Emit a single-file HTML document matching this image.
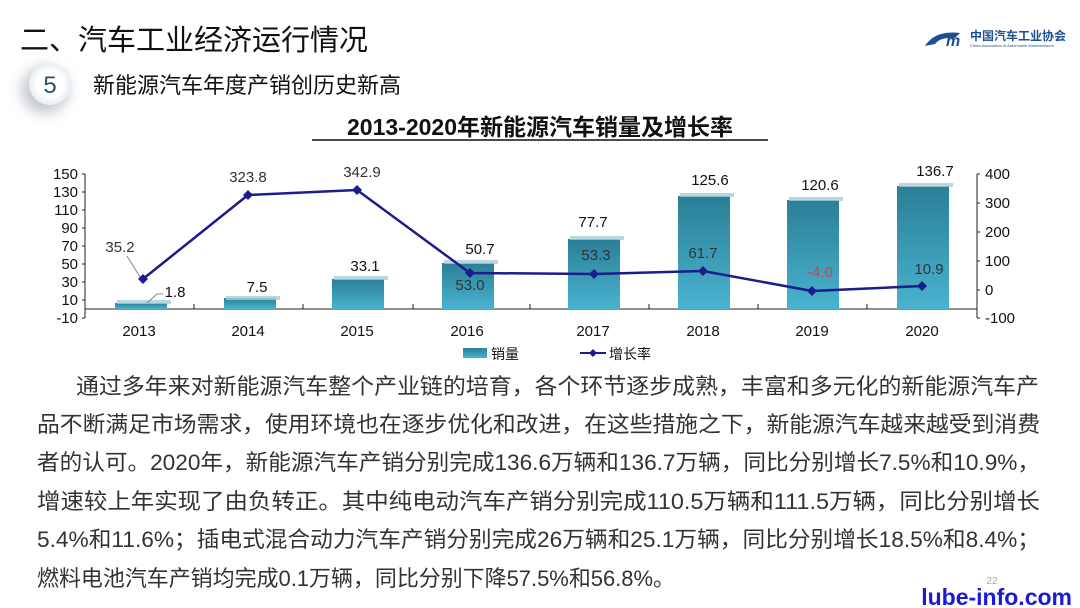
<!DOCTYPE html>
<html><head><meta charset="utf-8"><style>
html,body{margin:0;padding:0;background:#fff;}
svg{display:block;font-family:"Liberation Sans","Noto Sans CJK SC",sans-serif;}
</style></head><body>
<svg width="1080" height="608" viewBox="0 0 1080 608" xmlns="http://www.w3.org/2000/svg">
<defs>
<linearGradient id="bar" x1="0" y1="0" x2="0" y2="1">
<stop offset="0" stop-color="#2a7f96"/><stop offset="1" stop-color="#4ab3cf"/>
</linearGradient>
<radialGradient id="circ" cx="0.5" cy="0.5" r="0.5">
<stop offset="0.6" stop-color="#ffffff"/><stop offset="1" stop-color="#e8eef3"/>
</radialGradient>
<filter id="sh" x="-50%" y="-50%" width="200%" height="200%"><feGaussianBlur stdDeviation="6"/></filter>
</defs>
<rect width="1080" height="608" fill="#fff"/>
<!-- header -->
<text x="20" y="50" font-size="29" fill="#111">二、汽车工业经济运行情况</text>
<circle cx="45" cy="90" r="24" fill="#c8ccd2" filter="url(#sh)"/>
<circle cx="50" cy="84" r="21" fill="url(#circ)"/>
<text x="50" y="93" font-size="24" fill="#2c4f72" text-anchor="middle">5</text>
<text x="93" y="93" font-size="22" fill="#111">新能源汽车年度产销创历史新高</text>
<text x="540" y="135" font-size="23" font-weight="bold" fill="#111" text-anchor="middle">2013-2020年新能源汽车销量及增长率</text>
<line x1="312" y1="140" x2="768" y2="140" stroke="#111" stroke-width="1.5"/>
<!-- logo -->
<path d="M925 46 Q935 30 960 33 L955 38 Q940 37 935 44 Z" fill="#1e4f8f"/>
<text x="946" y="46" font-size="16" font-weight="bold" font-style="italic" fill="#1e4f8f">m</text>
<text x="970" y="40" font-size="12" font-weight="bold" fill="#1e4f8f">中国汽车工业协会</text>
<text x="970" y="47" font-size="4" fill="#1e4f8f">China Association of Automobile Manufacturers</text>
<!-- axes -->
<g stroke="#222" stroke-width="1" fill="none">
<line x1="85" y1="174" x2="85" y2="318"/>
<line x1="85" y1="309" x2="977" y2="309"/>
<line x1="977" y1="174" x2="977" y2="318"/>
</g>
<g stroke="#222" stroke-width="1">
<line x1="82" y1="174" x2="85" y2="174"/><line x1="82" y1="192" x2="85" y2="192"/><line x1="82" y1="210" x2="85" y2="210"/><line x1="82" y1="228" x2="85" y2="228"/><line x1="82" y1="246" x2="85" y2="246"/><line x1="82" y1="264" x2="85" y2="264"/><line x1="82" y1="282" x2="85" y2="282"/><line x1="82" y1="300" x2="85" y2="300"/><line x1="82" y1="318" x2="85" y2="318"/>
<line x1="977" y1="174" x2="980" y2="174"/><line x1="977" y1="203" x2="980" y2="203"/><line x1="977" y1="232" x2="980" y2="232"/><line x1="977" y1="261" x2="980" y2="261"/><line x1="977" y1="290" x2="980" y2="290"/><line x1="977" y1="318" x2="980" y2="318"/>
<line x1="194" y1="309" x2="194" y2="304"/><line x1="303" y1="309" x2="303" y2="304"/><line x1="413" y1="309" x2="413" y2="304"/><line x1="530" y1="309" x2="530" y2="304"/><line x1="649" y1="309" x2="649" y2="304"/><line x1="758" y1="309" x2="758" y2="304"/><line x1="867" y1="309" x2="867" y2="304"/>
</g>
<g font-size="15" fill="#111" text-anchor="end">
<text x="78" y="179">150</text><text x="78" y="197">130</text><text x="78" y="215">110</text><text x="78" y="233">90</text><text x="78" y="251">70</text><text x="78" y="269">50</text><text x="78" y="287">30</text><text x="78" y="305">10</text><text x="78" y="323">-10</text>
</g>
<g font-size="15" fill="#111">
<text x="985" y="179">400</text><text x="985" y="208">300</text><text x="985" y="237">200</text><text x="985" y="266">100</text><text x="985" y="295">0</text><text x="985" y="323">-100</text>
</g>
<g font-size="15" fill="#111" text-anchor="middle">
<text x="139" y="336">2013</text><text x="248" y="336">2014</text><text x="357" y="336">2015</text><text x="467" y="336">2016</text><text x="593" y="336">2017</text><text x="703" y="336">2018</text><text x="812" y="336">2019</text><text x="922" y="336">2020</text>
</g>
<!-- bars -->
<g fill="url(#bar)">
<rect x="115" y="303" width="52" height="6"/>
<rect x="224" y="298" width="52" height="11"/>
<rect x="332" y="279" width="52" height="30"/>
<rect x="442" y="263" width="52" height="46"/>
<rect x="568" y="239" width="52" height="70"/>
<rect x="678" y="196" width="52" height="113"/>
<rect x="787" y="200" width="52" height="109"/>
<rect x="897" y="186" width="52" height="123"/>
</g>
<g fill="#a9cdd8" opacity="0.8">
<rect x="117" y="300" width="54" height="4"/><rect x="226" y="296" width="54" height="4"/><rect x="334" y="276" width="54" height="4"/><rect x="444" y="260" width="54" height="4"/><rect x="570" y="236" width="54" height="4"/><rect x="680" y="193" width="54" height="4"/><rect x="789" y="197" width="54" height="4"/><rect x="899" y="183" width="54" height="4"/>
</g>
<!-- bar labels -->
<g font-size="15" fill="#111" text-anchor="middle">
<text x="175" y="297">1.8</text><text x="257" y="292">7.5</text><text x="365" y="271">33.1</text><text x="480" y="254">50.7</text><text x="593" y="227">77.7</text><text x="710" y="185">125.6</text><text x="820" y="190">120.6</text><text x="935" y="176">136.7</text>
</g>
<polyline points="163,294 157,294 147,303" fill="none" stroke="#888" stroke-width="1"/>
<line x1="127" y1="256" x2="140" y2="277" stroke="#888" stroke-width="1"/>
<!-- line -->
<polyline points="143,279 248,195 357,190 470,273 594,274 703,271 812,291 922,286" fill="none" stroke="#1c1c8c" stroke-width="2.5"/>
<g fill="#1c1c8c">
<path d="M143 274l5 5-5 5-5-5z"/><path d="M248 190l5 5-5 5-5-5z"/><path d="M357 185l5 5-5 5-5-5z"/><path d="M470 268l5 5-5 5-5-5z"/><path d="M594 269l5 5-5 5-5-5z"/><path d="M703 266l5 5-5 5-5-5z"/><path d="M812 286l5 5-5 5-5-5z"/><path d="M922 281l5 5-5 5-5-5z"/>
</g>
<g font-size="15" fill="#333" text-anchor="middle">
<text x="120" y="252">35.2</text><text x="248" y="182">323.8</text><text x="362" y="177">342.9</text><text x="470" y="290">53.0</text><text x="596" y="260">53.3</text><text x="703" y="258">61.7</text><text x="820" y="277" fill="#d04050">-4.0</text><text x="929" y="274">10.9</text>
</g>
<!-- legend -->
<rect x="463" y="348" width="24" height="10" fill="url(#bar)"/>
<text x="491" y="359" font-size="14" fill="#111">销量</text>
<line x1="580" y1="353" x2="606" y2="353" stroke="#1c1c8c" stroke-width="2"/>
<path d="M593 349l4 4-4 4-4-4z" fill="#1c1c8c"/>
<text x="609" y="359" font-size="14" fill="#111">增长率</text>
<!-- paragraph -->
<g font-size="22" fill="#333">
<text x="76" y="394" textLength="963" lengthAdjust="spacingAndGlyphs">通过多年来对新能源汽车整个产业链的培育，各个环节逐步成熟，丰富和多元化的新能源汽车产</text>
<text x="37" y="432" textLength="1003" lengthAdjust="spacingAndGlyphs">品不断满足市场需求，使用环境也在逐步优化和改进，在这些措施之下，新能源汽车越来越受到消费</text>
<text x="37" y="470" textLength="1003" lengthAdjust="spacingAndGlyphs">者的认可。2020年，新能源汽车产销分别完成136.6万辆和136.7万辆，同比分别增长7.5%和10.9%，</text>
<text x="37" y="509" textLength="1003" lengthAdjust="spacingAndGlyphs">增速较上年实现了由负转正。其中纯电动汽车产销分别完成110.5万辆和111.5万辆，同比分别增长</text>
<text x="37" y="547" textLength="1003" lengthAdjust="spacingAndGlyphs">5.4%和11.6%；插电式混合动力汽车产销分别完成26万辆和25.1万辆，同比分别增长18.5%和8.4%；</text>
<text x="37" y="586" textLength="638" lengthAdjust="spacingAndGlyphs">燃料电池汽车产销均完成0.1万辆，同比分别下降57.5%和56.8%。</text>
</g>
<text x="992" y="584" font-size="10" fill="#aaa" text-anchor="middle">22</text>
<text x="1072" y="605" font-size="23" font-weight="bold" fill="#1a1ad8" text-anchor="end">lube-info.com</text>
</svg>
</body></html>
